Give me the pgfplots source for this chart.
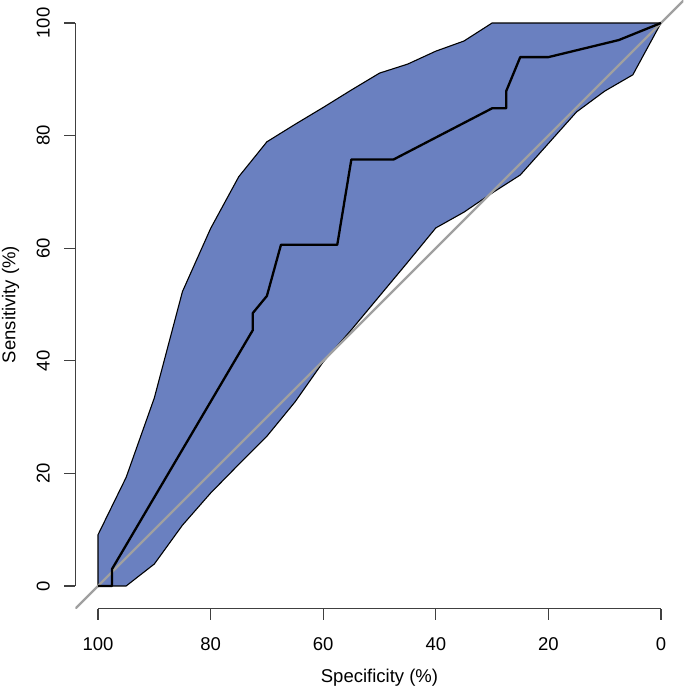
\documentclass[border=0pt]{standalone}
\usepackage{pgfplots}
\pgfplotsset{compat=1.18}
\usepackage{fontspec}
\setmainfont{Liberation Sans}
\definecolor{cifill}{RGB}{106,128,192}
\definecolor{diag}{RGB}{160,160,160}
\begin{document}
\begin{tikzpicture}
\begin{axis}[
  scale only axis,
  width=608pt, height=608pt,
  xmin=-4, xmax=104, ymin=-4, ymax=104,
  x dir=reverse,
  clip mode=individual,
  axis line style={draw=none},
  xtick={0,20,40,60,80,100},
  ytick={0,20,40,60,80,100},
  xtick pos=bottom, ytick pos=left,
  tick align=outside,
  major tick length=11pt,
  tick style={black!75, line width=1.1pt},
  /pgf/number format/assume math mode=true,
  ticklabel style={font=\fontsize{18.5}{22}\selectfont, inner sep=0pt},
  xticklabel style={anchor=north},
  yticklabel style={rotate=90, anchor=south},
  xticklabel shift=17.5pt,
  yticklabel shift=14.5pt,
  xlabel={Specificity (\%)},
  ylabel={Sensitivity (\%)},
  label style={font=\fontsize{18.5}{22}\selectfont, inner sep=0pt},
  xlabel style={at={(axis description cs:0.5,-0.1209)}, anchor=base},
  ylabel style={at={(axis description cs:-0.0987,0.5)}, anchor=base, rotate=0},
]
% confidence band
\addplot[fill=cifill, draw=black, line width=1.1pt, line join=round] coordinates {
(100,0) (100,9.1) (95,19.3) (90,33.4) (85,52.3) (80,63.5) (75,72.7) (70,78.9)
(65,82.0) (60,85.0) (55,88.1) (50,91.1) (45,92.7) (40,95.0) (35,96.8) (30,100)
(25,100) (20,100) (15,100) (10,100) (5,100) (0,100)
(5,90.8) (10,87.9) (15,84.2) (20,78.6) (25,73.0) (30,69.8) (35,66.4) (40,63.6)
(45,57.5) (50,51.5) (55,45.5) (60,39.8) (65,32.7) (70,26.6) (75,21.6) (80,16.5)
(85,10.8) (90,3.9) (95,0) (100,0)
} -- cycle;
% identity line
\addplot[diag, line width=2.3pt] coordinates {(104,-4) (-4,104)};
% ROC curve
\addplot[black, line width=2.3pt, line join=round] coordinates {
(100,0) (97.5,0) (97.5,3.03) (72.5,45.45) (72.5,48.48) (70,51.52) (67.5,60.61)
(57.5,60.61) (55,75.76) (47.5,75.76) (30,84.85) (27.5,84.85) (27.5,87.88)
(25,93.94) (20,93.94) (7.5,96.97) (0,100)
};
\draw[black!75, line width=1.1pt] (axis cs:100,-4) -- (axis cs:0,-4);
\draw[black!75, line width=1.1pt] (axis cs:104,0) -- (axis cs:104,100);
\end{axis}
\pgfresetboundingbox
\path[use as bounding box] ([shift={(-75.5pt,-79.5pt)}]current axis.south west) rectangle ([shift={(1.5pt,0.5pt)}]current axis.north east);
\end{tikzpicture}
\end{document}
